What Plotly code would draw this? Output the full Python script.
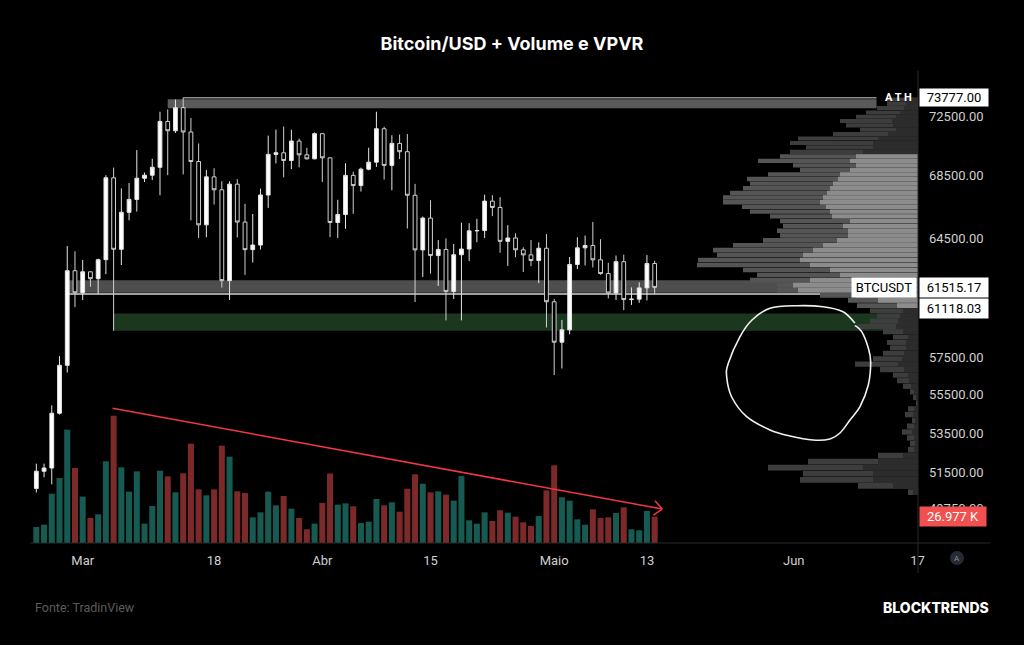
import math
import plotly.graph_objects as go

# ---------------- data ----------------
dates = ["2024-02-24","2024-02-25","2024-02-26","2024-02-27","2024-02-28","2024-02-29",
         "2024-03-01","2024-03-02","2024-03-03","2024-03-04","2024-03-05","2024-03-06","2024-03-07",
         "2024-03-08","2024-03-09","2024-03-10","2024-03-11","2024-03-12","2024-03-13","2024-03-14",
         "2024-03-15","2024-03-16","2024-03-17","2024-03-18","2024-03-19","2024-03-20","2024-03-21",
         "2024-03-22","2024-03-23","2024-03-24","2024-03-25","2024-03-26","2024-03-27","2024-03-28",
         "2024-03-29","2024-03-30","2024-03-31","2024-04-01","2024-04-02","2024-04-03","2024-04-04",
         "2024-04-05","2024-04-06","2024-04-07","2024-04-08","2024-04-09","2024-04-10","2024-04-11",
         "2024-04-12","2024-04-13","2024-04-14","2024-04-15","2024-04-16","2024-04-17","2024-04-18",
         "2024-04-19","2024-04-20","2024-04-21","2024-04-22","2024-04-23","2024-04-24","2024-04-25",
         "2024-04-26","2024-04-27","2024-04-28","2024-04-29","2024-04-30","2024-05-01","2024-05-02",
         "2024-05-03","2024-05-04","2024-05-05","2024-05-06","2024-05-07","2024-05-08","2024-05-09",
         "2024-05-10","2024-05-11","2024-05-12","2024-05-13","2024-05-14"]

opens = [50732, 51571, 51733, 54522, 57085, 62504,
         61198, 62440, 62029, 63168, 68330, 63801, 66106,
         66925, 68300, 68498, 69020, 72123, 71481, 73079,
         71397, 69403, 65316, 68390, 67548, 61913, 67913,
         65491, 63779, 64062, 67211, 69880, 69988, 69469,
         70780, 69850, 69582, 71280, 69649, 65463, 65963,
         68488, 67821, 68896, 69360, 71620, 69146, 70620,
         70060, 67195, 63765, 65739, 63419, 63793, 61277,
         63470, 63818, 64940, 64960, 66819, 66414, 64289,
         64499, 63770, 63461, 63118, 63866, 60672, 58364,
         59060, 62882, 63892, 64038, 63161, 62334, 61187,
         63049, 60799, 60825, 61484, 62938]
highs = [51950, 51950, 54938, 57588, 64000, 63676,
         63155, 62450, 63230, 68499, 69000, 67637, 67985,
         70170, 68673, 69584, 72800, 72960, 73650, 73777,
         72358, 70615, 68845, 68957, 68106, 68100, 68240,
         66650, 65999, 67624, 71150, 71561, 71769, 71552,
         70948, 70321, 71366, 71288, 69674, 66904, 69291,
         68725, 69000, 70326, 72797, 71758, 71172, 71227,
         71256, 67931, 65840, 66878, 64365, 64475, 64125,
         65450, 65419, 65696, 67232, 67199, 67075, 65297,
         64789, 63923, 64370, 64228, 64734, 60841, 59625,
         63333, 64545, 64646, 65500, 64422, 62985, 63421,
         63470, 61515, 61818, 63450, 63102]
lows = [50530, 51280, 50931, 54450, 56690, 60364,
        60770, 61550, 61132, 62300, 59005, 62848, 65600,
        66150, 68054, 68180, 67194, 68500, 71335, 68555,
        65600, 64500, 64545, 66600, 61500, 60775, 64529,
        62260, 63000, 63790, 66385, 69280, 68360, 68903,
        69020, 69540, 69562, 68062, 64550, 64493, 65064,
        66011, 67438, 68824, 69043, 68210, 67518, 69567,
        65086, 60660, 62134, 62332, 61600, 59600, 60833,
        59600, 63090, 64237, 64500, 65864, 63589, 62795,
        63322, 62424, 62781, 61765, 59191, 56552, 56911,
        58811, 62600, 62822, 62700, 62261, 60866, 60769,
        60187, 60487, 60610, 60749, 61118.03]
closes = [51571, 51733, 54522, 57085, 62504, 61198,
          62440, 62029, 63168, 68330, 63801, 66106, 66925,
          68300, 68498, 69020, 72123, 71481, 73078, 71397,
          69403, 65316, 68390, 67548, 61913, 67913, 65491,
          63779, 64062, 67211, 69880, 69988, 69469, 70780,
          69850, 69582, 71280, 69649, 65463, 65963, 68488,
          67821, 68896, 69360, 71620, 69146, 70620, 70060,
          67195, 63765, 65739, 63419, 63793, 61277, 63470,
          63818, 64940, 64960, 66819, 66414, 64289, 64499,
          63770, 63461, 63118, 63866, 60672, 58364, 59060,
          62882, 63892, 64038, 63161, 62334, 61187, 63049,
          60799, 60825, 61484, 62938, 61515.17]
volumes_k = [16.4, 18.7, 50.4, 66.4, 115.8, 76.7,
             47.4, 25.6, 29.3, 83.5, 130.1, 77.3, 52.5,
             73.2, 19.8, 37.8, 73.9, 68.1, 51.8, 71.2,
             101.5, 54.8, 48.7, 54.8, 99.5, 88.2, 52.8,
             51.1, 26.2, 31.3, 52.5, 38.5, 48.0, 35.1,
             25.6, 14.0, 19.8, 40.9, 71.0, 39.2, 40.5,
             37.5, 20.4, 21.8, 45.0, 38.5, 41.6, 32.0,
             55.5, 70.2, 60.6, 51.8, 52.8, 49.4, 43.3,
             68.5, 23.2, 19.8, 31.3, 22.5, 33.4, 31.0,
             26.9, 21.1, 17.4, 27.6, 53.8, 79.4, 46.7,
             43.3, 24.2, 18.7, 34.4, 25.6, 26.2, 30.7,
             36.5, 14.0, 13.0, 32.7, 26.977]

# Volume profile (visible range) - price rows, total and up volume (arbitrary units)
vpvr_price = [50550, 50850, 51150, 51450, 51750, 52050, 52350, 52650, 52950, 53250,
              53550, 53850, 54150, 54450, 54750, 55050, 55350, 55650, 55950, 56250,
              56550, 56850, 57150, 57450, 57750, 58050, 58350, 58650, 58950, 59250,
              59550, 59850, 60150, 60450, 60750, 61050, 61350, 61650, 61950, 62250,
              62550, 62850, 63150, 63450, 63750, 64050, 64350, 64650, 64950, 65250,
              65550, 65850, 66150, 66450, 66750, 67050, 67350, 67650, 67950, 68250,
              68550, 68850, 69150, 69450, 69750, 70050, 70350, 70650, 70950, 71250,
              71550, 71850, 72150, 72450, 72750, 73050, 73350, 73650]
vpvr_total = [10, 60, 118, 115, 150, 110, 40, 10, 8, 11,
              16, 11, 6, 13, 10, 2, 5, 8, 15, 21,
              25, 38, 63, 45, 35, 28, 31, 25, 35, 61,
              48, 41, 48, 61, 70, 98, 141, 141, 168, 161,
              175, 221, 220, 201, 205, 185, 155, 138, 141, 135,
              138, 148, 168, 176, 195, 195, 188, 175, 168, 171,
              150, 118, 125, 160, 138, 128, 112, 128, 120, 85,
              58, 72, 78, 62, 52, 41, 31, 31]
vpvr_up = [5, 25, 45, 45, 55, 40, 15, 4, 3, 4,
           6, 4, 3, 5, 4, 1, 2, 4, 7, 9,
           10, 14, 20, 16, 14, 12, 12, 10, 15, 22,
           20, 18, 15, 21, 40, 62, 120, 125, 108, 78,
           88, 108, 118, 115, 105, 95, 81, 70, 70, 75,
           68, 86, 88, 92, 98, 95, 91, 88, 85, 80,
           78, 68, 62, 68, 62, 55, 45, 45, 40, 30,
           22, 25, 26, 22, 18, 14, 12, 12]
value_area = (60450, 69750)

x_ticks = ["2024-03-01", "2024-03-18", "2024-04-01", "2024-04-15", "2024-05-01", "2024-05-13", "2024-06-01", "2024-06-17"]
x_tick_text = ["Mar", "18", "Abr", "15", "Maio", "13", "Jun", "17"]
y_ticks = [72500, 68500, 64500, 57500, 55500, 53500, 51500, 49750]
y_tick_text = ["72500.00", "68500.00", "64500.00", "57500.00", "55500.00", "53500.00", "51500.00", "49750.00"]

ath_price = 73777.00
last_price = 61515.17
line_price = 61118.03
last_volume = 26.977

# ---------------- figure ----------------
W, H = 1024, 645
L, R, T, B = 30, 918, 80, 543
PW, PH = R - L, B - T

def px(x):
    return (x - L) / PW

def py(y):
    return (B - y) / PH

up_col = "#175a52"
dn_col = "#7b2a29"
vol_colors = [up_col if c >= o else dn_col for o, c in zip(opens, closes)]

fig = go.Figure()

fig.add_trace(go.Bar(
    x=dates, y=volumes_k, marker=dict(color=vol_colors, line=dict(width=0)),
    xaxis="x", yaxis="y2", hoverinfo="skip", showlegend=False,
))

in_va = [value_area[0] <= p <= value_area[1] for p in vpvr_price]
fig.add_trace(go.Bar(
    y=vpvr_price, x=vpvr_total, orientation="h", width=280,
    marker=dict(color=["#555555" if v else "#3d3d3d" for v in in_va], line=dict(width=0)),
    xaxis="x3", yaxis="y", hoverinfo="skip", showlegend=False,
))
fig.add_trace(go.Bar(
    y=vpvr_price, x=vpvr_up, orientation="h", width=280,
    marker=dict(color=["#8c8c8c" if v else "#2c2c2c" for v in in_va], line=dict(width=0)),
    xaxis="x3", yaxis="y", hoverinfo="skip", showlegend=False,
))

fig.add_trace(go.Candlestick(
    x=dates, open=opens, high=highs, low=lows, close=closes,
    increasing=dict(line=dict(color="#e6e6e6", width=1), fillcolor="#ffffff"),
    decreasing=dict(line=dict(color="#d0d0d0", width=1), fillcolor="#000000"),
    xaxis="x", yaxis="y", hoverinfo="skip", showlegend=False,
))

shapes = []
# ATH zone
shapes.append(dict(type="rect", xref="x", yref="y", x0="2024-03-12", x1="2024-06-11 17:00",
                   y0=73040, y1=73670, fillcolor="#5a5a5a", line=dict(width=0), layer="below"))
shapes.append(dict(type="line", xref="x", yref="y", x0="2024-03-14", x1="2024-06-11 17:00",
                   y0=ath_price, y1=ath_price, line=dict(color="#8e8e8e", width=1.5), layer="below"))
# support zone
shapes.append(dict(type="rect", xref="x", yref="y", x0="2024-02-28", x1="2024-06-20",
                   y0=61200, y1=61930, fillcolor="#4e4e4e", line=dict(width=0), layer="below"))
shapes.append(dict(type="line", xref="x", yref="y", x0="2024-02-28", x1="2024-06-20",
                   y0=line_price, y1=line_price, line=dict(color="#d4d4d4", width=1.5), layer="below"))
# green demand zone
shapes.append(dict(type="rect", xref="x", yref="y", x0="2024-03-05", x1="2024-06-20",
                   y0=59005, y1=59990, fillcolor="#1b381e", line=dict(width=0), layer="below"))
# red falling volume trend line
shapes.append(dict(type="line", xref="x", yref="y2", x0="2024-03-04 21:00", y0=137.7,
                   x1="2024-05-14 23:30", y1=34.7, line=dict(color="#f23645", width=1.5)))
shapes.append(dict(type="line", xref="x", yref="y2", x0="2024-05-14 01:00", y0=43.2,
                   x1="2024-05-14 23:30", y1=34.7, line=dict(color="#f23645", width=1.5)))
shapes.append(dict(type="line", xref="x", yref="y2", x0="2024-05-13 19:40", y0=28.6,
                   x1="2024-05-14 23:30", y1=34.7, line=dict(color="#f23645", width=1.5)))

# hand drawn circle (pixel points -> paper)
circle_px = [(855, 323), (843, 311.7), (823, 306.7), (797, 305.7), (770, 308.3), (752, 320),
             (740, 336.7), (728.3, 363.3), (726.7, 377), (731.7, 397), (746.7, 416.7), (770, 430),
             (790, 436), (813, 440), (830, 439), (840, 433), (850, 420), (860, 406.7),
             (868.3, 385), (870.7, 362), (868.3, 348), (861.7, 331.7), (855, 325.5)]
pts = [(px(a), py(b)) for a, b in circle_px]
path = "M %.5f,%.5f" % pts[0]
for i in range(len(pts) - 1):
    p0 = pts[i - 1] if i > 0 else pts[i]
    p1, p2 = pts[i], pts[i + 1]
    p3 = pts[i + 2] if i + 2 < len(pts) else pts[i + 1]
    c1 = (p1[0] + (p2[0] - p0[0]) / 6, p1[1] + (p2[1] - p0[1]) / 6)
    c2 = (p2[0] - (p3[0] - p1[0]) / 6, p2[1] - (p3[1] - p1[1]) / 6)
    path += " C %.5f,%.5f %.5f,%.5f %.5f,%.5f" % (c1[0], c1[1], c2[0], c2[1], p2[0], p2[1])
shapes.append(dict(type="path", xref="paper", yref="paper", path=path,
                   line=dict(color="#f2f2f2", width=1.6)))

# pane separators
shapes.append(dict(type="line", xref="paper", yref="paper", x0=0, x1=px(990), y0=0, y1=0,
                   line=dict(color="#2b2b2b", width=1)))
shapes.append(dict(type="line", xref="paper", yref="paper", x0=1, x1=1, y0=py(573), y1=1.02,
                   line=dict(color="#2b2b2b", width=1)))
# auto-scale icon
shapes.append(dict(type="circle", xref="paper", yref="paper", x0=px(950), x1=px(964),
                   y0=py(565), y1=py(551), fillcolor="#262a33", line=dict(width=0)))

annotations = []
box_font = dict(family="Roboto", size=13, color="#000000")
annotations.append(dict(xref="paper", yref="y", x=1, y=math.log10(ath_price), xanchor="left", yanchor="middle",
                        xshift=1, text="%.2f" % ath_price, showarrow=False, bgcolor="#ffffff",
                        font=box_font, width=66, height=15, borderpad=1))
annotations.append(dict(xref="paper", yref="y", x=1, y=math.log10(ath_price), xanchor="right", yanchor="middle",
                        xshift=-4, text="A T H", showarrow=False,
                        font=dict(family="Roboto", size=11, color="#ffffff", weight="bold")))
annotations.append(dict(xref="paper", yref="y", x=1, y=math.log10(last_price), xanchor="left", yanchor="middle",
                        xshift=1, text="%.2f" % last_price, showarrow=False, bgcolor="#ffffff",
                        font=box_font, width=66, height=17, borderpad=1))
annotations.append(dict(xref="paper", yref="y", x=1, y=math.log10(last_price), xanchor="right", yanchor="middle",
                        xshift=-1, text="BTCUSDT", showarrow=False, bgcolor="#ffffff",
                        font=box_font, width=62, height=17, borderpad=1))
annotations.append(dict(xref="paper", yref="y", x=1, y=math.log10(line_price), xanchor="left", yanchor="middle",
                        xshift=1, yshift=-14, text="%.2f" % line_price, showarrow=False, bgcolor="#ffffff",
                        font=box_font, width=66, height=17, borderpad=1))
annotations.append(dict(xref="paper", yref="y2", x=1, y=last_volume, xanchor="left", yanchor="middle",
                        xshift=1, text="%.3f K" % last_volume, showarrow=False, bgcolor="#f0504f",
                        font=dict(family="Roboto", size=13, color="#ffffff"), width=64, height=17, borderpad=1))
annotations.append(dict(xref="paper", yref="paper", x=px(957), y=py(558), xanchor="center", yanchor="middle",
                        text="A", showarrow=False, font=dict(family="Roboto", size=8, color="#8a8e99")))
annotations.append(dict(xref="paper", yref="paper", x=px(33), y=py(607), xanchor="left", yanchor="middle",
                        text="Fonte: TradinView", showarrow=False,
                        font=dict(family="Roboto", size=12.5, color="#5c5c5c")))
annotations.append(dict(xref="paper", yref="paper", x=px(991), y=py(607), xanchor="right", yanchor="middle",
                        text="BLOCKTRENDS", showarrow=False,
                        font=dict(family="Inter", size=14, color="#ffffff", weight=800)))

fig.update_layout(
    width=W, height=H,
    margin=dict(l=L, r=W - R, t=T, b=H - B, pad=0),
    paper_bgcolor="#000000", plot_bgcolor="#000000",
    barmode="overlay", bargap=0.22,
    showlegend=False,
    title=dict(text="<b>Bitcoin/USD + Volume e VPVR</b>", xref="container", x=0.5, xanchor="center",
               yref="container", y=1 - 44 / H, yanchor="middle",
               font=dict(family="Inter", size=18, color="#ffffff")),
    xaxis=dict(type="date", range=["2024-02-23 04:22", "2024-06-17 01:40"],
               tickmode="array", tickvals=x_ticks, ticktext=x_tick_text,
               showgrid=False, zeroline=False, showline=False, ticks="",
               tickfont=dict(family="Roboto", size=13, color="#cfcfcf"), ticklabelstandoff=8,
               rangeslider=dict(visible=False), fixedrange=True),
    xaxis3=dict(overlaying="x", range=[888, 0], visible=False, anchor="y", fixedrange=True),
    yaxis=dict(type="log", range=[4.682540, 4.875328], side="right",
               tickmode="array", tickvals=y_ticks, ticktext=y_tick_text,
               showgrid=False, zeroline=False, showline=False, ticks="",
               tickfont=dict(family="Roboto", size=13, color="#cfcfcf"), ticklabelstandoff=10,
               fixedrange=True),
    yaxis2=dict(overlaying="y", range=[0, 473.1], visible=False, anchor="x", fixedrange=True),
    shapes=shapes, annotations=annotations,
    hovermode=False,
)

fig.write_html("out.html")
